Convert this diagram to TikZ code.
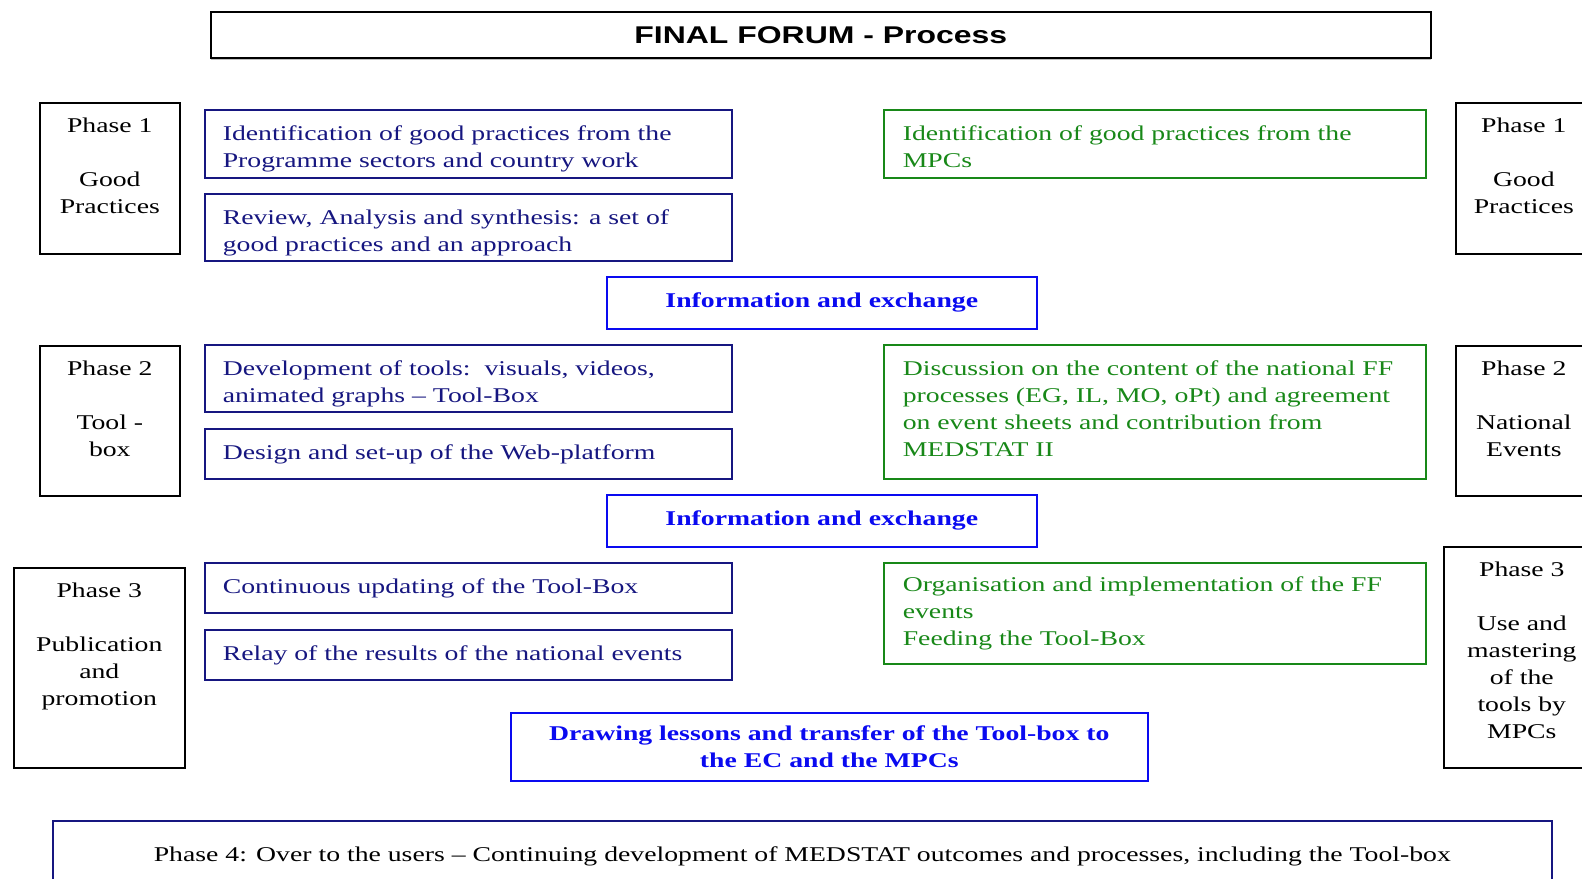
\documentclass[tikz,border=0pt]{standalone}
\usepackage{fontspec}
\setmainfont{Liberation Serif}[FakeStretch=1.32]
\setsansfont{Liberation Sans}[FakeStretch=1.32]
\usetikzlibrary{shadows}

\definecolor{navyblue}{RGB}{22,22,128}
\definecolor{infoblue}{RGB}{10,10,240}
\definecolor{ffgreen}{RGB}{24,136,24}

\begin{document}
\begin{tikzpicture}[x=1pt,y=-1pt]
\tikzstyle{every node}=[line width=1.6pt,inner sep=0pt,font=\fontsize{21}{27}\selectfont];
\tikzstyle{phase}=[draw=black,anchor=north west];
\tikzstyle{phasetxt}=[anchor=north,yshift=-15pt,align=center];
\tikzstyle{task}=[draw=navyblue,anchor=north west,minimum width=527pt];
\tikzstyle{tasktxt}=[anchor=north west,xshift=18pt,yshift=-16pt,align=left,text=navyblue];
\tikzstyle{mpc}=[draw=ffgreen,anchor=north west,minimum width=542pt];
\tikzstyle{mpctxt}=[anchor=north west,xshift=19pt,yshift=-16pt,align=left,text=ffgreen];
\tikzstyle{info}=[draw=infoblue,text=infoblue,anchor=north west,align=center,font=\fontsize{21}{27}\selectfont\bfseries];
\clip (0,0) rectangle (1582,878);

\node[draw=black,fill=white,anchor=north west,minimum width=1220pt,minimum height=46pt,
  drop shadow={shadow xshift=0.5pt,shadow yshift=-2pt,fill=gray},
  font=\fontsize{24.2}{28}\selectfont\sffamily\bfseries] (title) at (210,11) {FINAL FORUM - Process};

% left column: programme side
\node[phase,minimum width=140pt,minimum height=151pt,
  label={[phasetxt]north:{Phase 1\\[27pt]Good\\Practices}}] (ph1l) at (39,102) {};
\node[phase,minimum width=140pt,minimum height=150pt,
  label={[phasetxt]north:{Phase 2\\[27pt]Tool -\\box}}] (ph2l) at (39,345) {};
\node[phase,minimum width=171pt,minimum height=200pt,
  label={[phasetxt]north:{Phase 3\\[27pt]Publication\\and\\promotion}}] (ph3l) at (13,567) {};

\node[task,minimum height=68pt,
  label={[tasktxt]north west:{Identification of good practices from the\\Programme sectors and country work}}] (gpsect) at (204,109) {};
\node[task,minimum height=67pt,
  label={[tasktxt]north west:{Review, Analysis and synthesis: a set of\\good practices and an approach}}] (review) at (204,193) {};
\node[task,minimum height=67pt,
  label={[tasktxt]north west:{Development of tools:\ \ visuals, videos,\\animated graphs -- Tool-Box}}] (tools) at (204,344) {};
\node[task,minimum height=50pt,
  label={[tasktxt]north west:{Design and set-up of the Web-platform}}] (web) at (204,428) {};
\node[task,minimum height=50pt,
  label={[tasktxt]north west:{Continuous updating of the Tool-Box}}] (update) at (204,562) {};
\node[task,minimum height=50pt,
  label={[tasktxt]north west:{Relay of the results of the national events}}] (relay) at (204,629) {};

% right column: MPC side
\node[mpc,minimum height=68pt,
  label={[mpctxt]north west:{Identification of good practices from the\\MPCs}}] (gpmpc) at (883,109) {};
\node[mpc,minimum height=134pt,
  label={[mpctxt]north west:{Discussion on the content of the national FF\\processes (EG, IL, MO, oPt) and agreement\\on event sheets and contribution from\\MEDSTAT II}}] (discuss) at (883,344) {};
\node[mpc,minimum height=101pt,
  label={[mpctxt,yshift=2pt]north west:{Organisation and implementation of the FF\\events\\Feeding the Tool-Box}}] (events) at (883,562) {};

\node[phase,minimum width=136pt,minimum height=151pt,
  label={[phasetxt]north:{Phase 1\\[27pt]Good\\Practices}}] (ph1r) at (1455,102) {};
\node[phase,minimum width=136pt,minimum height=150pt,
  label={[phasetxt]north:{Phase 2\\[27pt]National\\Events}}] (ph2r) at (1455,345) {};
\node[phase,minimum width=156pt,minimum height=221pt,
  label={[phasetxt]north:{Phase 3\\[27pt]Use and\\mastering\\of the\\tools by\\MPCs}}] (ph3r) at (1443,546) {};

% exchange steps in the middle
\node[info,minimum width=430pt,minimum height=52pt] (info1) at (606,276) {Information and exchange};
\node[info,minimum width=430pt,minimum height=52pt] (info2) at (606,494) {Information and exchange};
\node[info,minimum width=637pt,minimum height=68pt] (lessons) at (510,712) {Drawing lessons and transfer of the Tool-box to\\the EC and the MPCs};

\node[draw=navyblue,anchor=north west,minimum width=1499pt,minimum height=72pt] (ph4) at (52,820) {Phase 4: Over to the users -- Continuing development of MEDSTAT outcomes and processes, including the Tool-box};
\end{tikzpicture}
\end{document}
